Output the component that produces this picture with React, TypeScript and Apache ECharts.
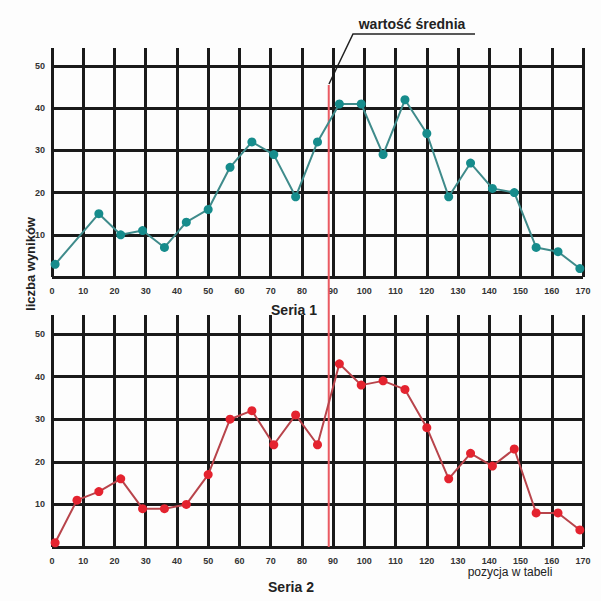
import React, { useEffect, useRef } from "react";
import * as echarts from "echarts";

const xTicks = { min: 0, max: 170, interval: 10 };
const yTicks = { min: 0, max: 50, interval: 10 };

const positions1 = [1, 15, 22, 29, 36, 43, 50, 57, 64, 71, 78, 85, 92, 99, 106, 113, 120, 127, 134, 141, 148, 155, 162, 169];
const values1 = [3, 15, 10, 11, 7, 13, 16, 26, 32, 29, 19, 32, 41, 41, 29, 42, 34, 19, 27, 21, 20, 7, 6, 2];

const positions2 = [1, 8, 15, 22, 29, 36, 43, 50, 57, 64, 71, 78, 85, 92, 99, 106, 113, 120, 127, 134, 141, 148, 155, 162, 169];
const values2 = [1, 11, 13, 16, 9, 9, 10, 17, 30, 32, 24, 31, 24, 43, 38, 39, 37, 28, 16, 22, 19, 23, 8, 8, 4];

const meanPosition = 88.6;

const FONT = "'Liberation Sans', Arial, sans-serif";

export default function App() {
  const ref = useRef<HTMLDivElement>(null);

  useEffect(() => {
    if (!ref.current) return;
    const chart = echarts.init(ref.current, undefined, { renderer: "svg" });

    const gridLine = { show: true, lineStyle: { color: "#1a1a1a", width: 3 } };
    const labelStyle = { color: "#333", fontSize: 9, fontWeight: "bold" as const, fontFamily: FONT };

    const left = 52;
    const width = 531;

    const xHidden = (gridIndex: number) => ({
      type: "value", gridIndex, show: false, min: xTicks.min, max: xTicks.max, interval: xTicks.interval,
    });
    const xShown = (gridIndex: number) => ({
      type: "value", gridIndex, min: xTicks.min, max: xTicks.max, interval: xTicks.interval,
      axisLine: { show: false }, axisTick: { show: false },
      axisLabel: { ...labelStyle, margin: 9 },
      splitLine: gridLine,
    });
    const yData = (gridIndex: number) => ({
      type: "value", gridIndex, min: yTicks.min, max: yTicks.max, interval: yTicks.interval,
      axisLine: { show: false }, axisTick: { show: false },
      axisLabel: { ...labelStyle, margin: 7, formatter: (v: number) => (v === 0 ? "" : String(v)) },
      splitLine: gridLine,
    });
    const yHidden = (gridIndex: number) => ({ type: "value", gridIndex, show: false, min: 0, max: 1 });

    chart.setOption({
      animation: false,
      backgroundColor: "#fdfdfd",
      grid: [
        { left, width, top: 66, height: 211 },
        { left, width, top: 48, height: 229 },
        { left, width, top: 334, height: 213 },
        { left, width, top: 315, height: 232 },
        { left, width, top: 85, height: 462 },
      ],
      xAxis: [xHidden(0), xShown(1), xHidden(2), xShown(3), xHidden(4)],
      yAxis: [yData(0), yHidden(1), yData(2), yHidden(3), yHidden(4)],
      series: [
        {
          type: "line", xAxisIndex: 4, yAxisIndex: 4, z: 3,
          data: [[meanPosition, 0], [meanPosition, 1]],
          showSymbol: false, symbol: "none",
          lineStyle: { color: "#ea5a62", width: 2 },
        },
        {
          name: "Seria 1", type: "line", xAxisIndex: 0, yAxisIndex: 0, z: 5,
          data: positions1.map((p, i) => [p, values1[i]]),
          symbol: "circle", symbolSize: 9,
          itemStyle: { color: "#168c8c" },
          lineStyle: { color: "#3f8b8b", width: 2 },
        },
        {
          name: "Seria 2", type: "line", xAxisIndex: 2, yAxisIndex: 2, z: 5,
          data: positions2.map((p, i) => [p, values2[i]]),
          symbol: "circle", symbolSize: 9,
          itemStyle: { color: "#e4232f" },
          lineStyle: { color: "#b8444b", width: 2 },
        },
      ],
      graphic: [
        {
          type: "text", x: 412, y: 24,
          style: { text: "wartość średnia", fontSize: 14, fontWeight: "bold", fontFamily: FONT, fill: "#222", align: "center", verticalAlign: "middle" },
        },
        {
          type: "polyline",
          shape: { points: [[475, 34], [353, 34], [329, 84]] },
          style: { stroke: "#222", lineWidth: 1.5, fill: "none" },
        },
        {
          type: "text", x: 30, y: 264, rotation: Math.PI / 2,
          style: { text: "liczba wyników", fontSize: 13, fontWeight: "bold", fontFamily: FONT, fill: "#222", align: "center", verticalAlign: "middle" },
        },
        {
          type: "text", x: 294, y: 310,
          style: { text: "Seria 1", fontSize: 14, fontWeight: "bold", fontFamily: FONT, fill: "#222", align: "center", verticalAlign: "middle" },
        },
        {
          type: "text", x: 291, y: 587,
          style: { text: "Seria 2", fontSize: 14, fontWeight: "bold", fontFamily: FONT, fill: "#222", align: "center", verticalAlign: "middle" },
        },
        {
          type: "text", x: 510, y: 572,
          style: { text: "pozycja w tabeli", fontSize: 12, fontFamily: FONT, fill: "#222", align: "center", verticalAlign: "middle" },
        },
      ],
    });

    return () => chart.dispose();
  }, []);

  return <div ref={ref} style={{ position: "fixed", left: 0, top: 0, width: 601, height: 601 }} />;
}
